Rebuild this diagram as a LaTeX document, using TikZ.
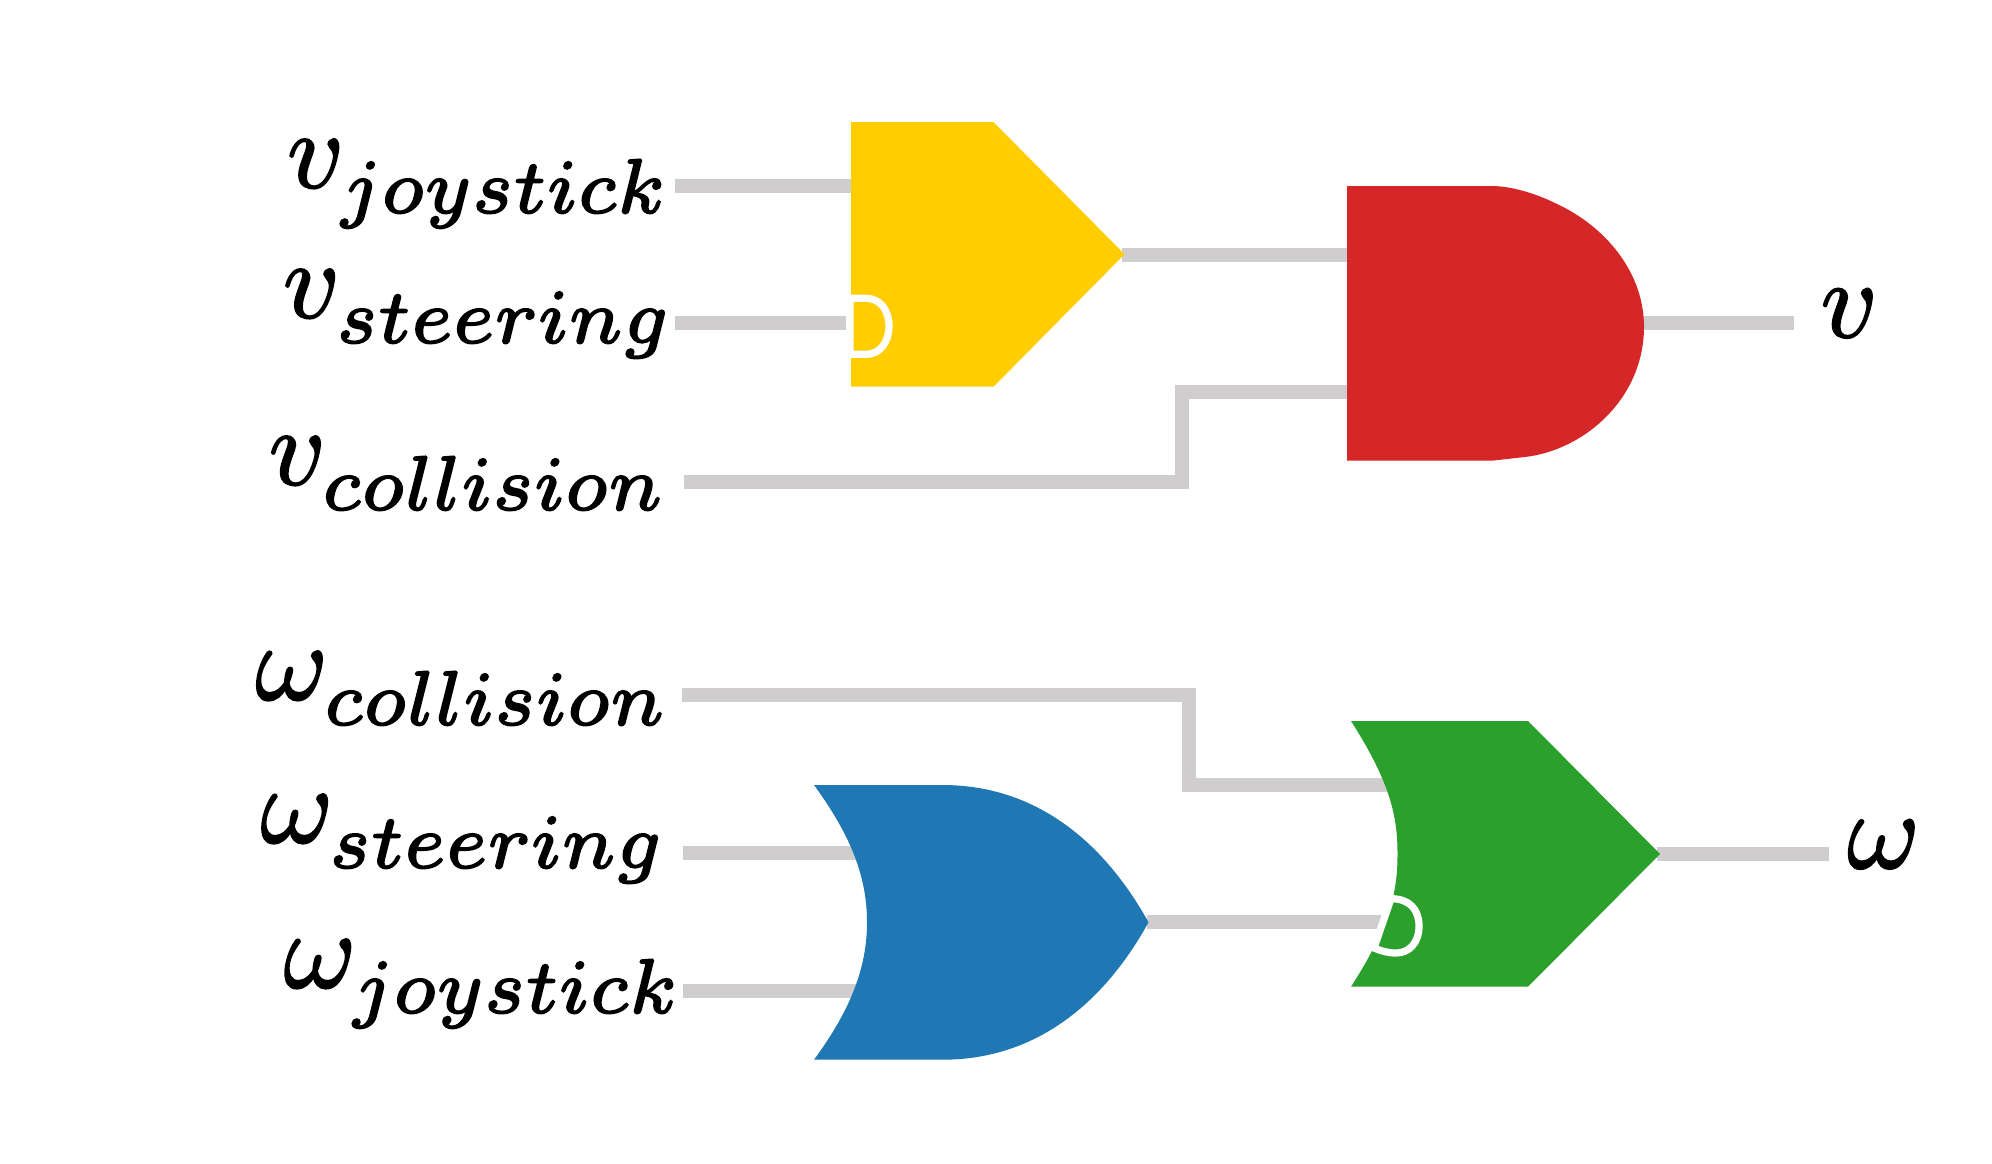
\documentclass[tikz,border=0pt]{standalone}
\definecolor{wiregray}{HTML}{CFCDCE}
\definecolor{gateyellow}{HTML}{FFCD00}
\definecolor{gatered}{HTML}{D62728}
\definecolor{gateblue}{HTML}{1F77B4}
\definecolor{gategreen}{HTML}{2CA02C}
\scriptspace=0pt
% outlines the glyphs a little, for a heavier text
\newcommand{\heavy}[1]{\special{pdf:code q 2 Tr 0.16 w}#1\special{pdf:code Q}}
\tikzset{
  wire/.style={draw=wiregray,line width=7pt,miter limit=10},
  lbl/.style={anchor=base east,inner sep=0pt,scale=5.5},
  bubble/.style={draw=white,line width=3.6pt}
}
\begin{document}
% a lower subscript
\sbox0{$\fontdimen16\textfont2=2.3pt$}
\begin{tikzpicture}[x=.5pt,y=-.5pt]
    \useasboundingbox (0,0) rectangle (1992,1163);

    % wire ends, in pixels of the drawing
    \coordinate (vjoyin)  at (675,185.7);
    \coordinate (vsteer)  at (675,322.7);
    \coordinate (vcoll)   at (684,482);
    \coordinate (wcoll)   at (682,695);
    \coordinate (wsteer)  at (683,852.7);
    \coordinate (wjoy)    at (683,990.7);
    \coordinate (yellowa) at (858,185.7);
    \coordinate (yellowb) at (846,322.7);
    \coordinate (yellowo) at (1122,254.5);
    \coordinate (reda)    at (1355,254.5);
    \coordinate (redb)    at (1355,391.7);
    \coordinate (redo)    at (1640,322.7);
    \coordinate (vout)    at (1794,322.7);
    \coordinate (bluea)   at (870,852.7);
    \coordinate (blueb)   at (870,990.7);
    \coordinate (blueo)   at (1147,922);
    \coordinate (greena)  at (1395,785);
    \coordinate (greenb)  at (1381,922);
    \coordinate (greeno)  at (1657,854);
    \coordinate (wout)    at (1829,854);

    \draw[wire] (vjoyin) -- (yellowa);
    \draw[wire] (vsteer) -- (yellowb);
    \draw[wire] (yellowo) -- (reda);
    \draw[wire] (vcoll) -- (vcoll -| 1182,0) -- (1182,0 |- redb) -- (redb);
    \draw[wire] (redo) -- (vout);
    \draw[wire] (wcoll) -- (wcoll -| 1188.5,0) -- (1188.5,0 |- greena) -- (greena);
    \draw[wire] (wsteer) -- (bluea);
    \draw[wire] (wjoy) -- (blueb);
    \draw[wire] (blueo) -- (greenb);
    \draw[wire] (greeno) -- (wout);

    % the four gates
    \fill[gateyellow] (851,122) -- (993.5,122) -- (1124.5,254.3) -- (993.5,386.7) -- (851,386.7) -- cycle;
    \fill[gatered] (1347,186) -- (1492,186) .. controls (1510,186) and (1535,193) .. (1556,203.5)
        .. controls (1605,226) and (1644,272) .. (1644,326.7)
        .. controls (1644,398) and (1585,450) .. (1525,457) -- (1492,460.7) -- (1347,460.7) -- cycle;
    \fill[gateblue] (814,785) -- (942.5,785) .. controls (1030,785) and (1100,835) .. (1148.5,922.3)
        .. controls (1100,1010) and (1030,1059.7) .. (942.5,1059.7) -- (814,1059.7)
        .. controls (852,1008) and (867,966) .. (867,922.3)
        .. controls (867,878) and (852,837) .. (814,785) -- cycle;
    \fill[gategreen] (1351,721) -- (1528,721) -- (1660,854) -- (1528,986.7) -- (1351,986.7)
        .. controls (1392,923) and (1397.5,889) .. (1397.5,854)
        .. controls (1397.5,819) and (1392,785) .. (1351,721) -- cycle;

    % inverted inputs
    \draw[bubble] (850,298.3) -- (866,298.3) .. controls (880,298.3) and (889,310) .. (889,326.3)
        .. controls (889,342) and (880,354.3) .. (866,354.3) -- (850,354.3) -- cycle;
    \draw[bubble] (1391,898.7) .. controls (1410,898.7) and (1419,910) .. (1419,926)
        .. controls (1419,943) and (1409,953) .. (1396,953)
        .. controls (1388,953) and (1381,951) .. (1374,948) -- cycle;

    \node[lbl] (vjoylabel)   at (668,187.5) {\heavy{$v_{joystick}$}};
    \node[lbl] (vsteerlabel) at (671,317.5) {\heavy{$v_{steering}$}};
    \node[lbl] (vcolllabel)  at (665,484.5) {\heavy{$v_{collision}$}};
    \node[lbl] (wcolllabel)  at (667,699.5) {\heavy{$\omega_{collision}$}};
    \node[lbl] (wsteerlabel) at (664,842.5) {\heavy{$\omega_{steering}$}};
    \node[lbl] (wjoylabel)   at (680,987.5) {\heavy{$\omega_{joystick}$}};
    \node[lbl] (voutlabel)   at (1880,337) {\heavy{$v$}};
    \node[lbl] (woutlabel)   at (1922,868) {\heavy{$\omega$}};
\end{tikzpicture}
\end{document}
